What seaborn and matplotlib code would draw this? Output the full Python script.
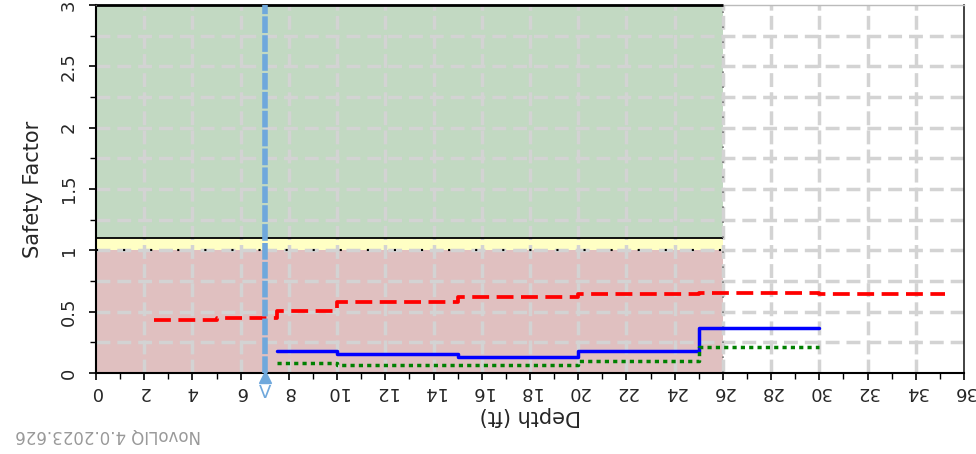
import matplotlib
matplotlib.use("Agg")
import matplotlib.pyplot as plt
import seaborn as sns
import pandas as pd
import numpy as np

# ---- data ----
red_depth = [2.4, 5, 7.5, 10, 15, 20, 25, 30, 35.2]
red_fs = [0.432, 0.446, 0.508, 0.581, 0.622, 0.641, 0.654, 0.646, 0.646]
blue_depth = [7.5, 10, 15, 20, 25, 30]
blue_fs = [0.182, 0.155, 0.13, 0.182, 0.369, 0.369]
green_depth = [7.5, 10, 20, 25, 30]
green_fs = [0.079, 0.066, 0.1, 0.209, 0.209]
water_depth = 7
x_ticks = list(range(0, 37, 2))
y_ticks = [0, 0.5, 1, 1.5, 2, 2.5, 3]
y_ticklabels = ["0", "0.5", "1", "1.5", "2", "2.5", "3"]

sns.set_theme(style="white")
plt.rcParams['font.family'] = ['DejaVu Sans']

fig = plt.figure(figsize=(9.76, 4.54), dpi=100)
ax = fig.add_axes([96/976, 1-373/454, (964-96)/976, (373-5)/454])

ax.set_xlim(0, 36)
ax.set_ylim(0, 3)

# zones
ax.axhspan(0, 1.0, xmin=0, xmax=26/36, color="#e0c0c0", zorder=0, lw=0)
ax.axhspan(1.0, 1.1, xmin=0, xmax=26/36, color="#ffffc4", zorder=0, lw=0)
ax.axhspan(1.1, 3.0, xmin=0, xmax=26/36, color="#c2d9c2", zorder=0, lw=0)
ax.hlines(1.1, 0, 26, color="black", lw=1.3, zorder=2)
ax.hlines(1.0, 0, 26, color="black", lw=1.5, linestyles=(0, (1, 12)), zorder=2)
ax.hlines(3.0, 0, 26, color="black", lw=2, zorder=3, clip_on=False)
ax.vlines(26, 0, 3, color="#777777", lw=1.2, linestyles=(0, (1, 8)), zorder=2)

# grid
for xv in range(2, 36, 2):
    ax.axvline(xv, color="#d3d3d3", lw=2.5, ls=(0, (4, 1.5)), zorder=1)
for yv in np.arange(0.25, 3.0, 0.25):
    ax.axhline(yv, color="#d3d3d3", lw=2.5, ls=(0, (4, 2)), zorder=1)

# series
df_r = pd.DataFrame({"Depth": red_depth, "FS": red_fs})
df_b = pd.DataFrame({"Depth": blue_depth, "FS": blue_fs})
df_g = pd.DataFrame({"Depth": green_depth, "FS": green_fs})
sns.lineplot(data=df_r, x="Depth", y="FS", ax=ax, color="#ff0000", lw=2.7,
             drawstyle="steps-post", estimator=None, sort=False, zorder=4,
             dashes=False, linestyle=(0, (4.5, 2)))
sns.lineplot(data=df_b, x="Depth", y="FS", ax=ax, color="#0000ff", lw=2.5,
             drawstyle="steps-post", estimator=None, sort=False, zorder=4)
sns.lineplot(data=df_g, x="Depth", y="FS", ax=ax, color="#008000", lw=2.5,
             drawstyle="steps-post", estimator=None, sort=False, zorder=4,
             linestyle=(0, (1.2, 1.2)))

# water table
ax.axvline(water_depth, color="#6fa8dc", lw=4, ls=(0, (3, 0.4)), zorder=5)
ax.plot([water_depth], [-0.03], marker="^", color="#6fa8dc", ms=9, clip_on=False, zorder=6)
ax.text(water_depth, -0.09, "V", color="#6fa8dc", fontsize=13, ha="center", va="top",
        clip_on=False)

# ticks
ax.set_xticks(x_ticks)
ax.set_xticklabels([str(t) for t in x_ticks], rotation=180, fontsize=13)
ax.set_xticks(range(1, 36, 2), minor=True)
ax.set_yticks(y_ticks)
ax.set_yticklabels(y_ticklabels, rotation=90, fontsize=13, va="center")
ax.set_yticks(np.arange(0.25, 3, 0.5), minor=True)
ax.tick_params(axis="both", which="major", direction="out", length=5, width=1.2,
               color="black", bottom=True, left=True)
ax.tick_params(axis="both", which="minor", direction="out", length=4, width=1,
               color="black", bottom=True, left=True)
ax.tick_params(axis="x", pad=2)
ax.tick_params(axis="y", pad=8)

for side in ["left", "bottom"]:
    ax.spines[side].set_color("black")
    ax.spines[side].set_linewidth(1.5)
ax.spines["right"].set_color("#222222")
ax.spines["right"].set_linewidth(1.2)
ax.spines["top"].set_color("#bbbbbb")
ax.spines["top"].set_linewidth(1)

ax.set_xlabel("Depth (ft)", fontsize=15, rotation=180, labelpad=4)
ax.set_ylabel("Safety Factor", fontsize=15, rotation=90, labelpad=12)

fig.text(108/976, 1-435/454, "NovoLIQ 4.0.2023.626", color="#999999", fontsize=12,
         rotation=180, ha="center", va="center")

fig.savefig("out.png", dpi=100)
